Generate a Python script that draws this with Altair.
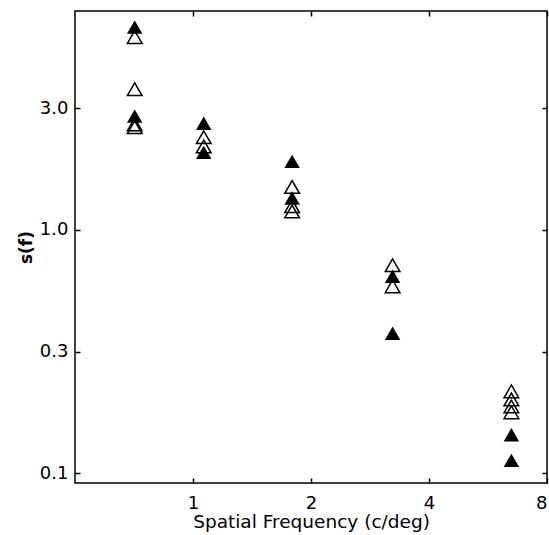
import altair as alt
import pandas as pd

# Filled triangles (condition A)
filled_freq = [0.71, 0.71, 1.065, 1.065, 1.79, 1.79, 3.23, 3.23, 6.49, 6.49]
filled_s = [6.80, 2.93, 2.74, 2.08, 1.91, 1.35, 0.644, 0.376, 0.144, 0.113]

# Open triangles (condition B)
open_freq = [0.71, 0.71, 0.71, 0.71, 1.065, 1.065, 1.79, 1.79, 1.79,
             3.23, 3.23, 6.49, 6.49, 6.49, 6.49]
open_s = [6.19, 3.78, 2.71, 2.64, 2.40, 2.20, 1.50, 1.25, 1.19,
          0.715, 0.586, 0.217, 0.201, 0.188, 0.178]

x_ticks = [1, 2, 4, 8]
y_ticks = [0.1, 0.31622777, 1.0, 3.16227766]
y_tick_labels = ["0.1", "0.3", "1.0", "3.0"]

x_domain = [0.5, 8]
y_domain = [0.0912, 7.92]

FONT = "DejaVu Sans"

df_f = pd.DataFrame({"f": filled_freq, "s": filled_s})
df_o = pd.DataFrame({"f": open_freq, "s": open_s})

xs = alt.Scale(type="log", domain=x_domain, nice=False)
ys = alt.Scale(type="log", domain=y_domain, nice=False)

label_expr = " : ".join(
    [f"datum.value < {v * 1.2} ? '{t}'" for v, t in zip(y_ticks[:-1], y_tick_labels[:-1])]
) + f" : '{y_tick_labels[-1]}'"

common_axis = dict(domain=False, grid=False, ticks=True, tickSize=5, tickWidth=1.5,
                   tickColor="black", offset=-5)

filled = alt.Chart(df_f).mark_point(
    shape="triangle-up", filled=True, size=240, color="black", opacity=1
).encode(
    x=alt.X("f:Q", scale=xs, axis=alt.Axis(
        values=x_ticks, format="d", title="Spatial Frequency (c/deg)",
        labelFont=FONT, labelFontSize=18, labelColor="black", labelPadding=11,
        titleFont=FONT, titleFontSize=18.5, titleFontWeight="normal", titleColor="black",
        titlePadding=0, orient="bottom", labelFlush=True, labelOverlap=False, **common_axis)),
    y=alt.Y("s:Q", scale=ys, axis=alt.Axis(
        values=y_ticks, labelExpr=label_expr, title="s(f)",
        labelFont=FONT, labelFontSize=18, labelColor="black", labelPadding=7,
        titleFont=FONT, titleFontSize=17, titleFontWeight="bold", titleColor="black",
        titlePadding=4, orient="left", labelFlush=False, labelOverlap=False, **common_axis)),
)

opened = alt.Chart(df_o).mark_point(
    shape="triangle-up", filled=False, size=215, color="black", strokeWidth=1.5, opacity=1
).encode(
    x=alt.X("f:Q", scale=xs, axis=None),
    y=alt.Y("s:Q", scale=ys, axis=None),
)

ghost = alt.Chart(df_o).mark_point(opacity=0).encode(
    x=alt.X("f:Q", scale=xs, axis=alt.Axis(
        values=x_ticks, labels=False, title=None, orient="top", **common_axis)),
    y=alt.Y("s:Q", scale=ys, axis=alt.Axis(
        values=y_ticks, labels=False, title=None, orient="right", **common_axis)),
)

chart = alt.layer(filled, opened, ghost).resolve_axis(
    x="independent", y="independent"
).properties(
    width=472, height=472,
    autosize=alt.AutoSizeParams(type="none"),
    padding={"left": 75, "top": 11, "right": 2, "bottom": 52},
    background="white",
).configure_view(
    stroke="black", strokeWidth=1.5
)

chart.save("out.html", embed_options={"renderer": "svg", "actions": False})
